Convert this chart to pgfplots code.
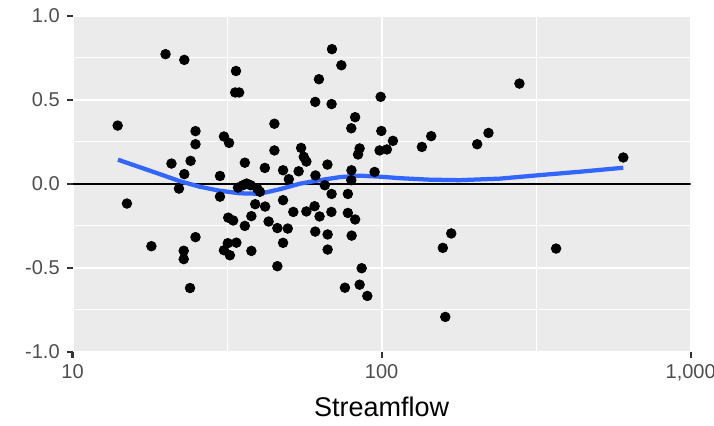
\documentclass[border=0pt]{standalone}
\usepackage{fontspec}
\setmainfont{Liberation Sans}
\usepackage{pgfplots}
\usepackage{pgfplotstable}
\pgfplotsset{compat=1.18}
\definecolor{PanelGrey}{HTML}{EBEBEB}
\definecolor{TickText}{HTML}{4D4D4D}
\definecolor{TickMark}{HTML}{333333}
\definecolor{SmoothBlue}{HTML}{3366FF}

% residuals vs streamflow
\pgfplotstableread{
flow resid
14.0 0.346
15.0 -0.118
18.0 -0.372
20.0 0.771
20.9 0.120
22.1 -0.029
23.0 0.737
22.9 -0.399
22.9 -0.449
23.0 0.057
24.1 0.136
24.0 -0.621
25.0 0.313
25.0 0.235
25.0 -0.318
30.0 0.046
30.0 -0.077
30.9 0.281
32.1 0.243
33.8 0.671
33.6 0.543
34.6 0.543
31.9 -0.202
33.1 -0.219
31.8 -0.354
33.9 -0.351
30.9 -0.396
32.3 -0.426
34.3 -0.023
36.6 0.001
39.6 -0.029
40.4 -0.048
35.6 -0.009
37.7 -0.009
36.1 0.125
37.9 -0.193
36.1 -0.251
37.9 -0.400
39.0 -0.122
42.0 -0.136
41.9 0.094
43.1 -0.225
46.0 -0.264
45.0 0.357
45.0 0.198
48.0 0.080
48.0 -0.098
48.0 -0.352
46.0 -0.491
50.1 0.027
49.7 -0.267
51.8 -0.168
53.9 0.074
54.9 0.213
56.0 0.160
57.1 0.132
57.1 -0.165
61.0 0.487
62.7 0.622
69.1 0.801
74.1 0.705
68.9 0.474
61.1 0.049
60.7 -0.134
63.0 -0.195
61.0 -0.285
66.8 0.114
65.5 -0.009
68.9 -0.061
68.8 -0.168
66.9 -0.302
66.9 -0.392
77.8 -0.061
77.8 -0.174
82.1 -0.213
80.0 -0.309
76.1 -0.619
84.9 -0.601
86.2 -0.503
89.9 -0.668
79.9 0.080
79.8 0.021
82.1 0.396
79.8 0.330
84.9 0.210
83.9 0.174
94.9 0.070
99.3 0.517
99.8 0.314
98.5 0.198
104.0 0.204
108.8 0.255
135.0 0.219
144.7 0.283
157.8 -0.382
168.0 -0.296
160.7 -0.793
203.8 0.235
221.7 0.302
279.2 0.596
366.9 -0.386
605.2 0.156
}\resid

% smoothed trend
\pgfplotstableread{
flow fit
14.03 0.143
16.52 0.098
19.17 0.057
22.25 0.015
25.82 -0.018
29.97 -0.042
34.78 -0.057
40.35 -0.060
46.83 -0.033
54.35 0.000
63.05 0.021
73.17 0.039
84.92 0.048
98.52 0.042
114.4 0.033
142.9 0.024
178.6 0.021
240.6 0.030
324.0 0.051
436.3 0.071
605.2 0.095
}\trend

\begin{document}
\begin{tikzpicture}
\begin{axis}[
    scale only axis,
    width=309.1pt,
    height=168pt,
    xmode=log,
    xmin=10, xmax=1000,
    ymin=-1, ymax=1,
    axis background/.style={fill=PanelGrey},
    axis line style={draw=none},
    xtick={10,100,1000},
    xticklabels={10,100,{1,000}},
    minor xtick={31.623,316.23},
    ytick={-1,-0.5,0,0.5,1},
    yticklabels={-1.0,-0.5,0.0,0.5,1.0},
    minor ytick={-0.75,-0.25,0.25,0.75},
    grid=both,
    major grid style={white,line width=1.07pt},
    minor grid style={white,line width=0.53pt},
    tick align=outside,
    xtick pos=left, ytick pos=left,
    major tick length=2.9pt,
    minor tick length=0pt,
    tick style={TickMark,line width=1.07pt},
    tick label style={font=\fontsize{10}{12}\selectfont,text=TickText},
    xlabel={Streamflow},
    xlabel style={font=\fontsize{13.5}{15}\selectfont,text=black,yshift=-1pt},
]
\addplot[black,line width=1.07pt] coordinates {(10,0) (1000,0)};
\addplot[only marks,mark=*,mark size=2.4pt,black] table[x=flow,y=resid] {\resid};
\addplot[SmoothBlue,line width=2.13pt] table[x=flow,y=fit] {\trend};
\coordinate (sw) at (rel axis cs:0,0);
\coordinate (ne) at (rel axis cs:1,1);
\end{axis}
\pgfresetboundingbox
\path[use as bounding box] ([shift={(-36.25pt,-36.65pt)}]sw) rectangle ([shift={(11.65pt,7.85pt)}]ne);
\end{tikzpicture}
\end{document}
